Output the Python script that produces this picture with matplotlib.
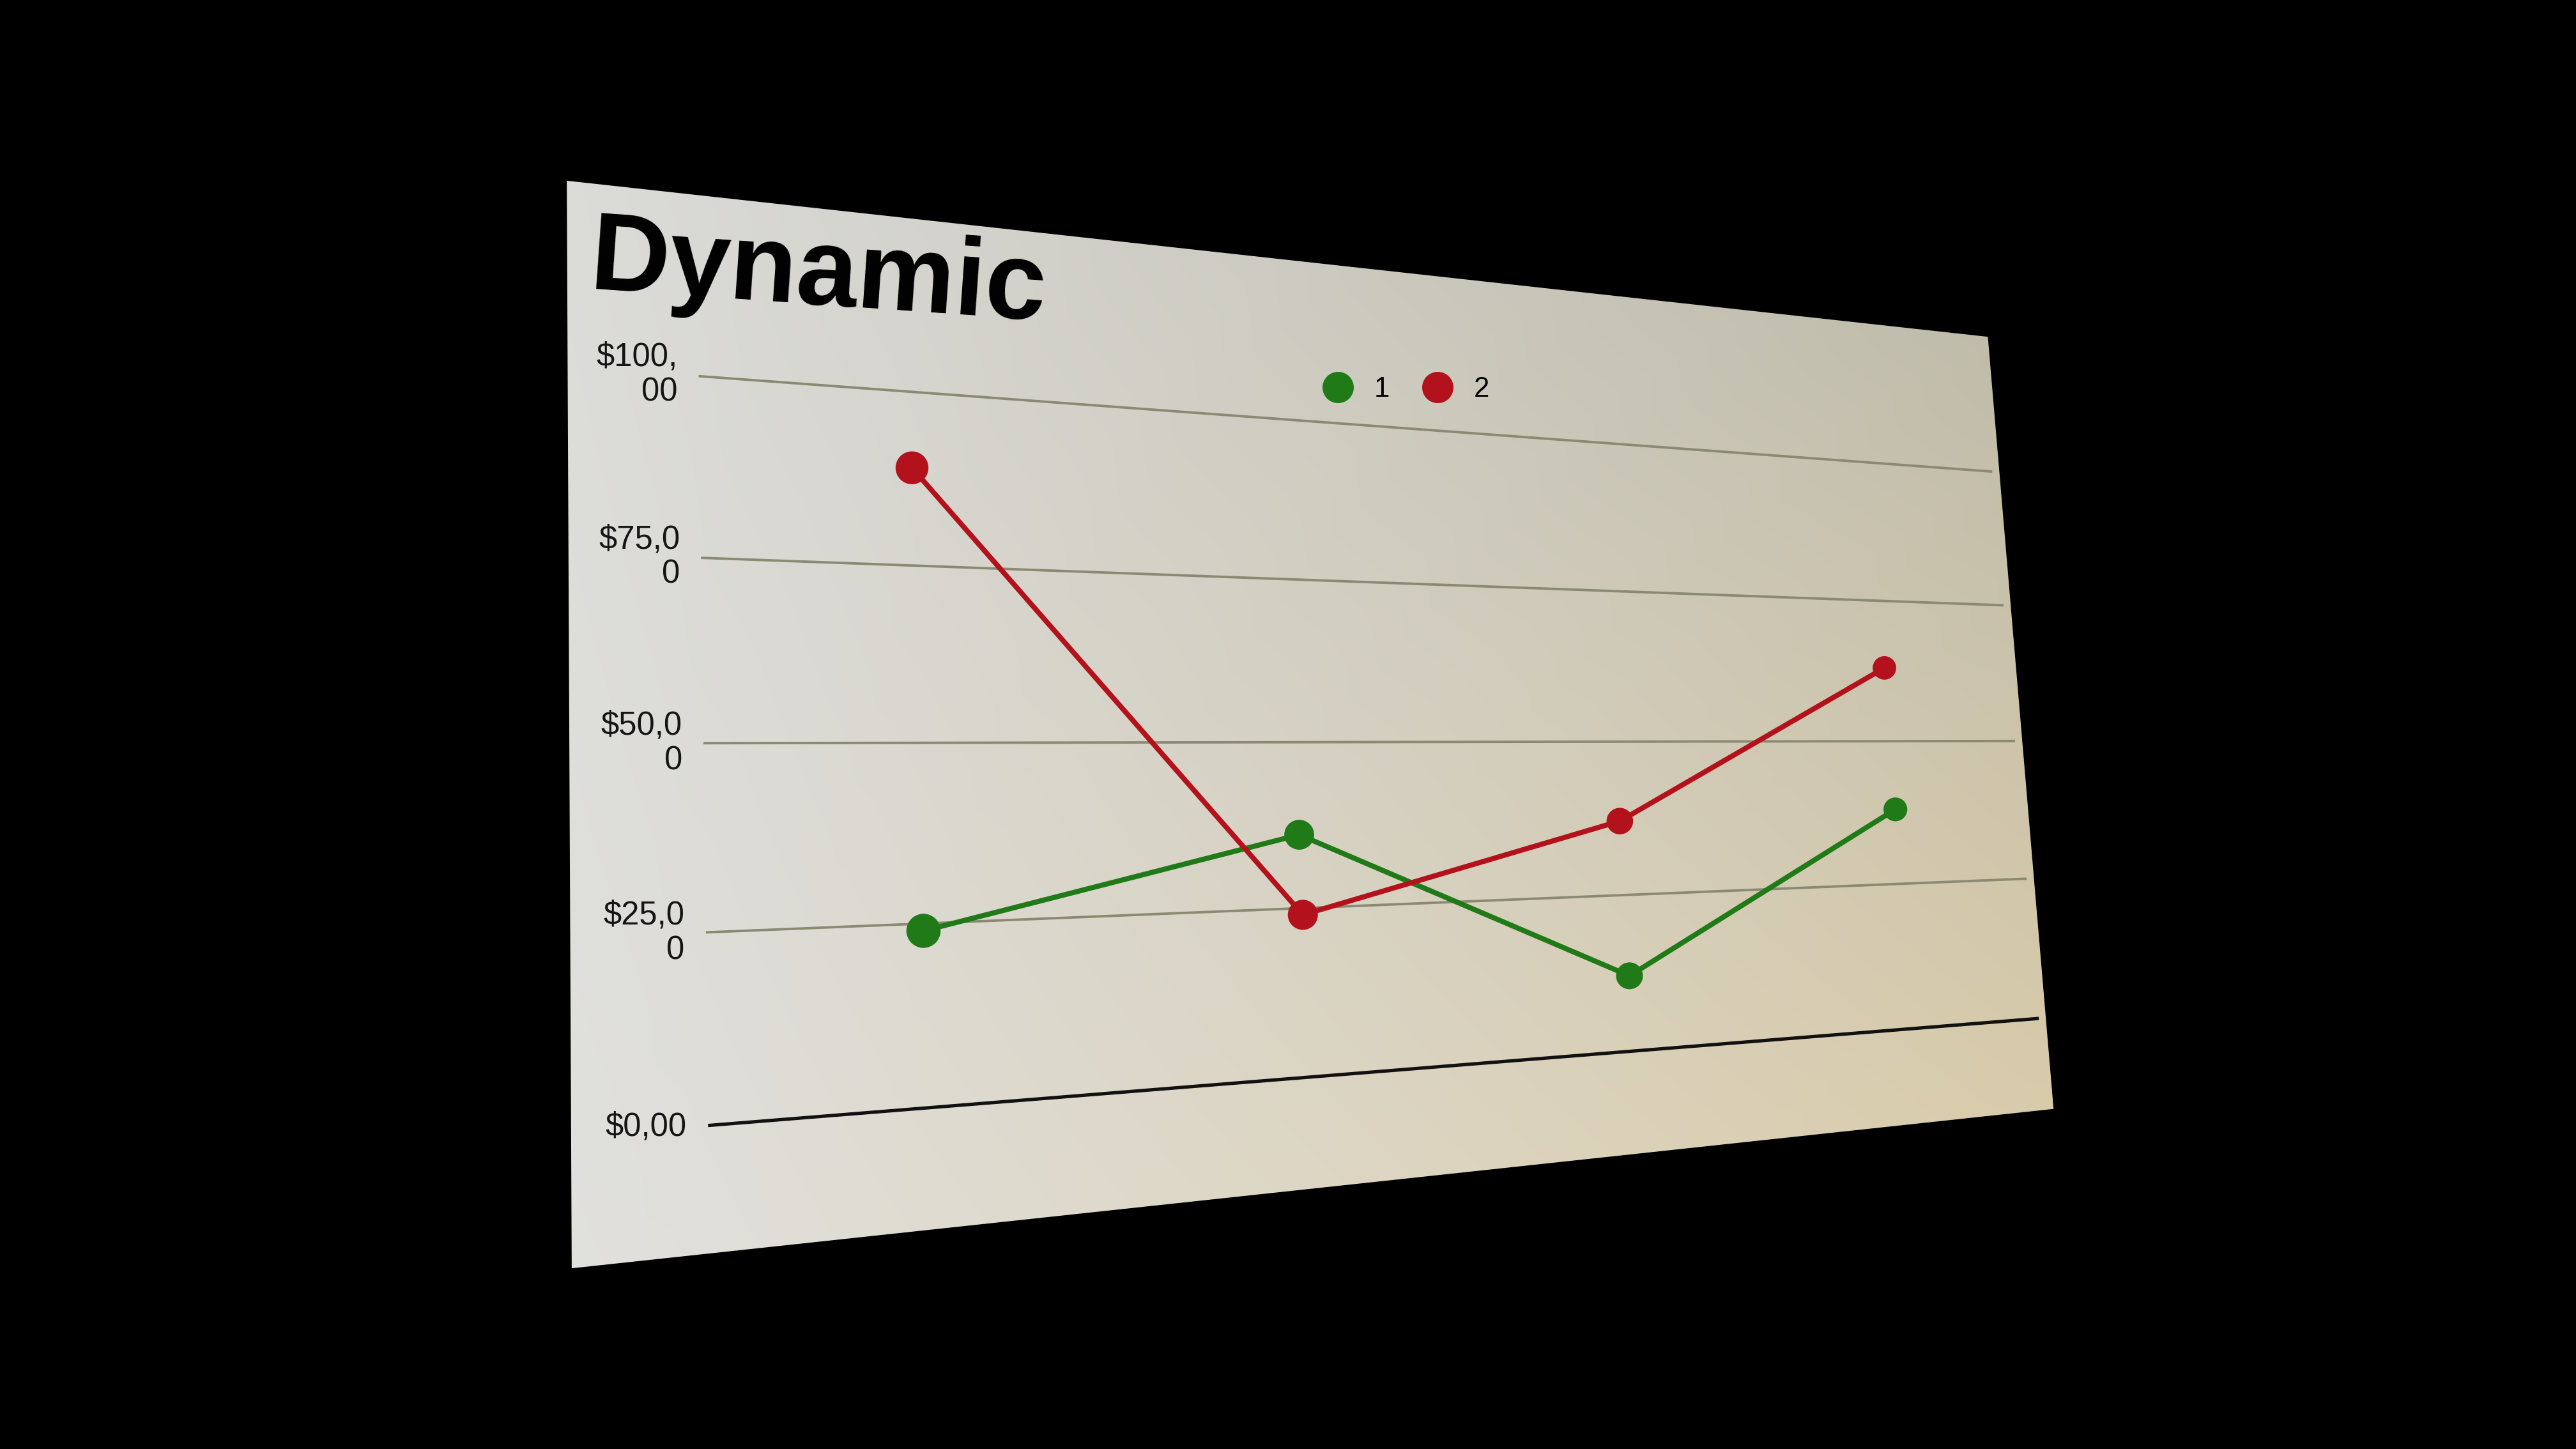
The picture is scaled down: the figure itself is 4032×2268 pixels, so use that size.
import numpy as np
import matplotlib.pyplot as plt
from matplotlib.transforms import Transform
from matplotlib.patches import Polygon
from matplotlib.lines import Line2D

plt.rcParams['font.family'] = ['Liberation Sans', 'DejaVu Sans']

# values (thousands of $)
categories = [0, 1, 2, 3]
series_1 = [24, 36, 12, 38]
series_2 = [89, 24, 37, 63]
series_names = ['1', '2']
y_ticks = [0, 25, 50, 75, 100]
y_labels = ['$0,00', '$25,0\n0', '$50,0\n0', '$75,0\n0', '$100,\n00']
chart_title = 'Dynamic'

GREEN = '#1f7a17'
RED = '#b3111b'

W, H, DPI = 4032, 2268, 252
S = W / 1568  # positions were measured on a 1568 px wide copy of the photo


def ref(x, y):
    return (x * S, H - y * S)


# the photo shows the screen at an angle, so warp the flat chart onto it
class Perspective(Transform):
    input_dims = 2
    output_dims = 2
    is_separable = False
    has_inverse = False

    def __init__(self, m):
        super().__init__()
        self.m = m

    def transform_non_affine(self, values):
        v = np.asarray(values, dtype=float).reshape(-1, 2)
        p = np.column_stack([v, np.ones(len(v))]) @ self.m.T
        return p[:, :2] / p[:, 2:3]


def homography(src, dst):
    rows, rhs = [], []
    for (x, y), (u, v) in zip(src, dst):
        rows.append([x, y, 1, 0, 0, 0, -u * x, -u * y])
        rhs.append(u)
        rows.append([0, 0, 0, x, y, 1, -v * x, -v * y])
        rhs.append(v)
    h = np.linalg.solve(np.array(rows, float), np.array(rhs, float))
    return np.append(h, 1).reshape(3, 3)


fig = plt.figure(figsize=(W / DPI, H / DPI), dpi=DPI, facecolor='black')

# screen panel with a soft light gradient
bg = fig.add_axes([0, 0, 1, 1], zorder=0)
tl, tr = np.array([0.86, 0.86, 0.85]), np.array([0.73, 0.72, 0.66])
bl, br = np.array([0.88, 0.88, 0.87]), np.array([0.87, 0.81, 0.67])
gx = np.linspace(0, 1, 200)[None, :, None]
gy = np.linspace(0, 1, 120)[:, None, None]
grad = (1 - gy) * ((1 - gx) * tl + gx * tr) + gy * ((1 - gx) * bl + gx * br)
x0, y0 = ref(345, 772)
x1, y1 = ref(1250, 110)
img = bg.imshow(grad, extent=(x0, x1, y0, y1), origin='upper', aspect='auto',
                interpolation='bilinear')
screen = Polygon([ref(345, 110), ref(1210, 205), ref(1250, 675), ref(348, 772)],
                 closed=True, facecolor='none', edgecolor='none', transform=bg.transData)
bg.add_patch(screen)
img.set_clip_path(screen)
bg.set_xlim(0, W)
bg.set_ylim(0, H)
bg.axis('off')

ax = fig.add_axes([0, 0, 1, 1], zorder=1)
ax.set_autoscale_on(False)
ax.set_xlim(-0.5, 3.5)
ax.set_ylim(0, 100)
ax.axis('off')
ax.patch.set_visible(False)

src = ax.transData.transform([(-0.5, 0), (3.5, 0), (-0.5, 100), (3.5, 100)])
dst = [ref(432, 685), ref(1240, 620), ref(426, 229), ref(1212, 287)]
T = ax.transData + Perspective(homography(src, dst))


def marker_sizes(xs, ys, base=17):
    # dots get smaller further away, like in the photo
    def scale(x, y):
        p = T.transform([(x, y), (x + 0.01, y), (x, y + 0.25)])
        j = np.array([p[1] - p[0], p[2] - p[0]])
        return np.sqrt(abs(np.linalg.det(j)))
    s0 = scale(1.5, 50)
    out = []
    for x, y in zip(xs, ys):
        d = base * S * scale(x, y) / s0 * 72 / DPI
        out.append(d ** 2)
    return out


for t, lab in zip(y_ticks, y_labels):
    if t == 0:
        ax.plot([-0.5, 3.5], [t, t], transform=T, color='#111111', lw=1.5, clip_on=False, zorder=1)
    else:
        ax.plot([-0.5, 3.5], [t, t], transform=T, color='#8a8a72', lw=1.1, clip_on=False, zorder=1)
    ax.text(-0.55, t, lab, transform=T, ha='right', va='center', multialignment='right',
            fontsize=14.5, color='#151515', parse_math=False, linespacing=1.15)

for vals, color in ((series_1, GREEN), (series_2, RED)):
    ax.plot(categories, vals, transform=T, color=color, lw=2.3, clip_on=False,
            solid_capstyle='round', zorder=3)
    ax.scatter(categories, vals, s=marker_sizes(categories, vals), color=color,
               linewidths=0, transform=T, clip_on=False, zorder=4)

handles = [Line2D([], [], ls='none', marker='o', ms=13, color=c, label=n)
           for c, n in zip((GREEN, RED), series_names)]
ax.legend(handles=handles, loc='center', bbox_to_anchor=(857 / 1568, 1 - 237 / 882),
          bbox_transform=fig.transFigure, ncol=2, frameon=False, fontsize=12.5,
          handlelength=0.8, handletextpad=0.9, columnspacing=1.3)

fig.text(358 / 1568, 1 - 176 / 882, chart_title, ha='left', va='baseline', rotation=-4,
         rotation_mode='anchor', fontsize=49, fontweight='bold', color='black')

fig.savefig('out.png', dpi=DPI, facecolor='black')
